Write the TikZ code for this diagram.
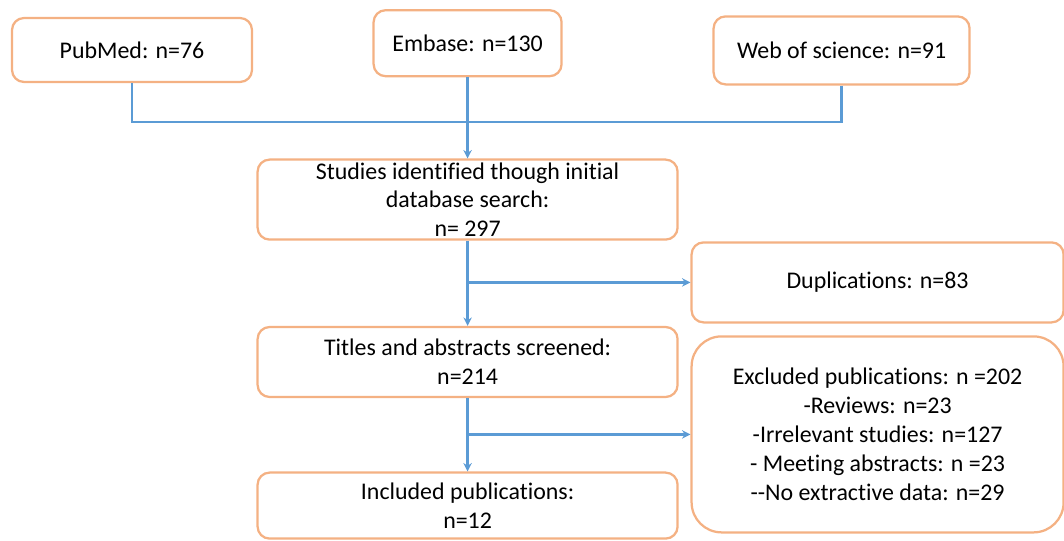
\documentclass[tikz,border=0pt]{standalone}
\usepackage{fontspec}
\setmainfont{Carlito}[Ligatures={TeX,NoCommon}]
\usetikzlibrary{arrows.meta}

\definecolor{boxorange}{RGB}{244,177,131}
\definecolor{lineblue}{RGB}{91,155,213}

\begin{document}
\begin{tikzpicture}[
    box/.style={draw=boxorange, line width=1.6pt, rounded corners=0.3cm, fill=white,
        align=center, inner sep=0pt, font=\fontsize{17}{20.5}\selectfont},
    link/.style={draw=lineblue, line width=1.6pt},
    flow/.style={link, -{Stealth[length=6pt,width=6pt]}}
]
    % Frame of the picture
    \useasboundingbox (0,0) rectangle (26.6,13.5);
    % Databases
    \node[box, minimum width=6.0cm, minimum height=1.6cm] (pubmed) at (3.3,12.25) {PubMed: n=76};
    \node[box, minimum width=4.7cm, minimum height=1.65cm] (embase) at (11.69,12.42) {Embase: n=130};
    \node[box, minimum width=6.4cm, minimum height=1.7cm] (wos) at (21.04,12.24) {Web of science: n=91};
    % Main column
    \node[box, minimum width=10.5cm, minimum height=2.0cm] (studies) at (11.69,8.51)
        {Studies identified though initial\\ database search:\\ n= 297};
    \node[box, minimum width=10.5cm, minimum height=1.75cm] (titles) at (11.69,4.45)
        {Titles and abstracts screened:\\ n=214};
    \node[box, minimum width=10.5cm, minimum height=1.65cm] (included) at (11.69,0.86)
        {Included publications:\\ n=12};
    % Side boxes
    \node[box, minimum width=9.3cm, minimum height=2.0cm] (dups) at (21.94,6.44) {Duplications: n=83};
    \node[box, rounded corners=0.75cm, minimum width=9.3cm, minimum height=4.9cm] (excluded) at (21.94,2.64)
        {Excluded publications: n =202\\ -Reviews: n=23\\ -Irrelevant studies: n=127\\
         - Meeting abstracts: n =23\\ -{}-No extractive data: n=29};
    % Joining the databases
    \coordinate (hub) at (studies.north |- 0,10.45);
    \draw[link] (pubmed.south) |- (hub);
    \draw[link] (wos.south) |- (hub);
    \draw[link] (embase.south) -- (hub);
    \draw[flow] (hub) -- (studies.north);
    % Down the column and to the sides
    \draw[flow] (studies.south) -- (titles.north);
    \draw[flow] (studies.south |- dups.west) -- (dups.west);
    \draw[flow] (titles.south) -- (included.north);
    \draw[flow] (titles.south |- excluded.west) -- (excluded.west);
\end{tikzpicture}
\end{document}
